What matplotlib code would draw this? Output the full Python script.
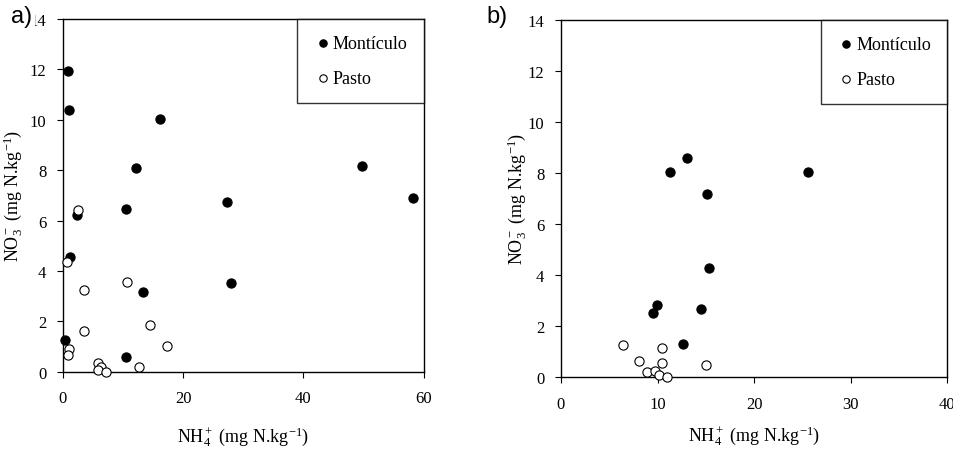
import matplotlib.pyplot as plt

# panel a
a_mont_x = [0.8, 1.0, 16.2, 12.2, 27.3, 10.5, 2.3, 1.2, 28.0, 13.3, 0.3, 10.5, 49.8, 58.2]
a_mont_y = [11.94, 10.4, 10.04, 8.1, 6.75, 6.47, 6.23, 4.56, 3.53, 3.17, 1.27, 0.6, 8.17, 6.9]
a_past_x = [2.5, 0.7, 3.5, 10.7, 14.5, 3.5, 17.3, 1.0, 0.8, 5.8, 6.3, 5.8, 7.2, 12.7]
a_past_y = [6.43, 4.37, 3.25, 3.57, 1.87, 1.63, 1.03, 0.91, 0.67, 0.36, 0.2, 0.08, 0.0, 0.2]

# panel b
b_mont_x = [11.3, 13.1, 15.1, 25.6, 15.3, 9.9, 9.5, 14.5, 12.6]
b_mont_y = [8.04, 8.59, 7.18, 8.04, 4.27, 2.82, 2.51, 2.67, 1.29]
b_past_x = [6.4, 8.1, 10.5, 10.5, 8.9, 9.7, 10.1, 11.0, 15.0]
b_past_y = [1.25, 0.63, 1.14, 0.55, 0.2, 0.24, 0.08, 0.0, 0.47]

a_xticks = [0, 20, 40, 60]
b_xticks = [0, 10, 20, 30, 40]
yticks = [0, 2, 4, 6, 8, 10, 12, 14]

serif = 'Liberation Serif'
xlab = r'NH$_4^+$ (mg N.kg$^{-1}$)'
ylab = r'NO$_3^-$ (mg N.kg$^{-1}$)'
plt.rcParams['mathtext.fontset'] = 'custom'
plt.rcParams['mathtext.rm'] = serif
plt.rcParams['mathtext.it'] = serif + ':italic'

fig = plt.figure(figsize=(9.54, 4.52), dpi=100)
ax1 = fig.add_axes([0.066, 0.175, 0.378, 0.781])
ax2 = fig.add_axes([0.588, 0.164, 0.405, 0.790])


def panel(ax, mx, my, px, py, xticks, xmax, xpad, xlab_y, ylab_x):
    ax.scatter(mx, my, s=44, c='black', edgecolors='black', linewidths=0.8,
               label='Montículo', zorder=3, clip_on=False)
    ax.scatter(px, py, s=44, c='white', edgecolors='black', linewidths=0.8,
               label='Pasto', zorder=3, clip_on=False)
    ax.set_xlim(0, xmax)
    ax.set_ylim(0, 14)
    ax.set_xticks(xticks)
    ax.set_yticks(yticks)
    for s in ax.spines.values():
        s.set_linewidth(1.0)
    ax.tick_params(direction='out', length=4, width=0.8, labelsize=12, pad=8)
    ax.tick_params(axis='x', pad=xpad)
    for lab in ax.get_xticklabels() + ax.get_yticklabels():
        lab.set_fontfamily(serif)
    ax.set_xlabel(xlab, fontsize=13, fontfamily=serif)
    ax.set_ylabel(ylab, fontsize=13, fontfamily=serif)
    ax.xaxis.set_label_coords(0.5, xlab_y)
    ax.yaxis.set_label_coords(ylab_x, 0.5)
    leg = ax.legend(loc='upper right', borderaxespad=0, fancybox=False,
                    frameon=True, handletextpad=0.05, handlelength=1.0,
                    labelspacing=1.0, borderpad=0.9, markerscale=0.8,
                    prop={'family': serif, 'size': 13})
    leg.get_frame().set_edgecolor('black')
    leg.get_frame().set_linewidth(1.0)


panel(ax1, a_mont_x, a_mont_y, a_past_x, a_past_y, a_xticks, 60, 9, -0.148, -0.105)
panel(ax2, b_mont_x, b_mont_y, b_past_x, b_past_y, b_xticks, 40, 10, -0.13, -0.083)

fig.text(0.012, 0.962, 'a)', fontsize=17, fontfamily='Liberation Sans', va='center',
         bbox=dict(facecolor='white', edgecolor='none', pad=2))
fig.text(0.510, 0.962, 'b)', fontsize=17, fontfamily='Liberation Sans', va='center',
         bbox=dict(facecolor='white', edgecolor='none', pad=2))

fig.savefig('out.png', dpi=100)
